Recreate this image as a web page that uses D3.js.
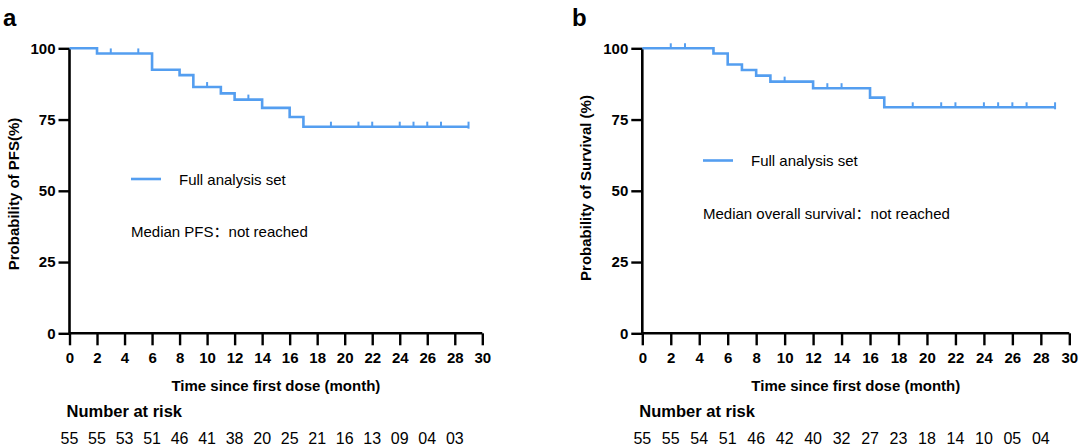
<!DOCTYPE html>
<html><head><meta charset="utf-8">
<script src="https://cdn.jsdelivr.net/npm/d3@7"></script>
<style>
body{margin:0;background:#fff;}
svg{display:block;font-family:"Liberation Sans",Arial,Helvetica,sans-serif;}
</style></head>
<body><svg id="c" width="1080" height="447"></svg>
<script>
// ---- data ----
const xTicks = [0,2,4,6,8,10,12,14,16,18,20,22,24,26,28,30];
const yTicks = [0,25,50,75,100];
const riskMonths = [0,2,4,6,8,10,12,14,16,18,20,22,24,26,28];

const pfsTimes = [0, 2, 6, 8, 9, 11, 12, 14, 16, 17, 29];
const pfsSurv  = [100, 98.2, 92.5, 90.6, 86.4, 84.2, 82.0, 79.1, 75.9, 72.5, 72.5];
const pfsCensor = [3, 5, 10, 13, 19, 21, 22, 24, 25, 26, 27];
const pfsRisk = ["55","55","53","51","46","41","38","20","25","21","16","13","09","04","03"];

const osTimes = [0, 5, 6, 7, 8, 9, 12, 16, 17, 29];
const osSurv  = [100, 98.2, 94.3, 92.4, 90.4, 88.3, 86.0, 82.7, 79.3, 79.3];
const osCensor = [2, 3, 10, 13, 14, 19, 21, 22, 24, 25, 26, 27];
const osRisk = ["55","55","54","51","46","42","40","32","27","23","18","14","10","05","04"];

const color = "#549ef0";
const svg = d3.select("#c");

function panel(cfg){
  const x = d3.scaleLinear().domain([0,30]).range([cfg.x0, cfg.x1]);
  const y = d3.scaleLinear().domain([0,100]).range([333.3, 48.3]);
  const g = svg.append("g");

  // panel letter
  g.append("text").attr("x", cfg.letterX).attr("y", 26).attr("font-size", 24)
    .attr("font-weight","bold").text(cfg.letter);

  // y axis
  const ya = g.append("g").attr("transform",`translate(${cfg.x0},0)`)
    .call(d3.axisLeft(y).tickValues(yTicks).tickSize(11).tickPadding(3));
  ya.select(".domain").attr("stroke","#000").attr("stroke-width",2.6).attr("d",`M0,${y(100)}V${y(0)}`);
  ya.selectAll(".tick line").attr("stroke","#000").attr("stroke-width",2.4);
  ya.selectAll(".tick text").attr("font-size",15).attr("font-weight","bold").attr("fill","#000")
    .attr("font-family","Liberation Sans, Arial, sans-serif");

  // x axis
  const xa = g.append("g").attr("transform",`translate(0,${y(0)})`)
    .call(d3.axisBottom(x).tickValues(xTicks).tickSize(12).tickPadding(7));
  xa.select(".domain").attr("stroke","#000").attr("stroke-width",2.6).attr("d",`M${cfg.x0},0H${cfg.x1}`);
  xa.selectAll(".tick line").attr("stroke","#000").attr("stroke-width",2.4);
  xa.selectAll(".tick text").attr("font-size",15).attr("font-weight","bold").attr("fill","#000")
    .attr("font-family","Liberation Sans, Arial, sans-serif");

  // axis titles
  g.append("text").attr("x",(cfg.x0+cfg.x1)/2).attr("y",391).attr("text-anchor","middle")
    .attr("font-size",15).attr("font-weight","bold").text("Time since first dose (month)");
  g.append("text").attr("transform",`translate(${cfg.ylabX},${cfg.ylabY}) rotate(-90)`)
    .attr("text-anchor","middle").attr("font-size",15).attr("font-weight","bold").text(cfg.ylab);

  // KM curve
  const pts = cfg.times.map((t,i)=>[t,cfg.surv[i]]);
  const line = d3.line().x(d=>x(d[0])).y(d=>y(d[1])).curve(d3.curveStepAfter);
  g.append("path").datum(pts).attr("d",line).attr("fill","none").attr("stroke",color)
    .attr("stroke-width",2.6);

  // censor marks
  const survAt = t => { let s = cfg.surv[0]; cfg.times.forEach((tt,i)=>{ if (tt<=t) s = cfg.surv[i]; }); return s; };
  g.selectAll(".cens").data(cfg.censor).enter().append("line")
    .attr("x1",d=>x(d)).attr("x2",d=>x(d))
    .attr("y1",d=>y(survAt(d))).attr("y2",d=>y(survAt(d))-5)
    .attr("stroke",color).attr("stroke-width",2);
  const tEnd = cfg.times[cfg.times.length-1];
  g.append("line").attr("x1",x(tEnd)).attr("x2",x(tEnd))
    .attr("y1",y(survAt(tEnd))-5).attr("y2",y(survAt(tEnd))+2)
    .attr("stroke",color).attr("stroke-width",2);

  // legend
  g.append("line").attr("x1",cfg.legX).attr("x2",cfg.legX+30).attr("y1",cfg.legY).attr("y2",cfg.legY)
    .attr("stroke",color).attr("stroke-width",2.6);
  g.append("text").attr("x",cfg.legX+48).attr("y",cfg.legY+5.5).attr("font-size",15).text("Full analysis set");
  const med = g.append("text").attr("x",cfg.legX).attr("y",cfg.medY+5.5).attr("font-size",15);
  med.append("tspan").text(cfg.median[0]);
  med.append("tspan").attr("font-family","Noto Sans CJK SC").text("：");
  med.append("tspan").text(cfg.median[1]);

  // number at risk
  g.append("text").attr("x",cfg.x0-3).attr("y",417).attr("font-size",16.5).attr("font-weight","bold").text("Number at risk");
  g.selectAll(".risk").data(cfg.risk).enter().append("text")
    .attr("x",(d,i)=>x(riskMonths[i])).attr("y",444).attr("text-anchor","middle")
    .attr("font-size",16).text(d=>d);
}

panel({letter:"a", letterX:3, x0:69.5, x1:482.3, ylab:"Probability of PFS(%)", ylabX:19, ylabY:194,
  times:pfsTimes, surv:pfsSurv, censor:pfsCensor, risk:pfsRisk,
  legX:131, legY:179, medY:231.5, median:["Median PFS","not reached"]});
panel({letter:"b", letterX:572, x0:642.3, x1:1069.3, ylab:"Probability of Survival (%)", ylabX:591, ylabY:188,
  times:osTimes, surv:osSurv, censor:osCensor, risk:osRisk,
  legX:703, legY:160.5, medY:213, median:["Median overall survival","not reached"]});
</script></body></html>
